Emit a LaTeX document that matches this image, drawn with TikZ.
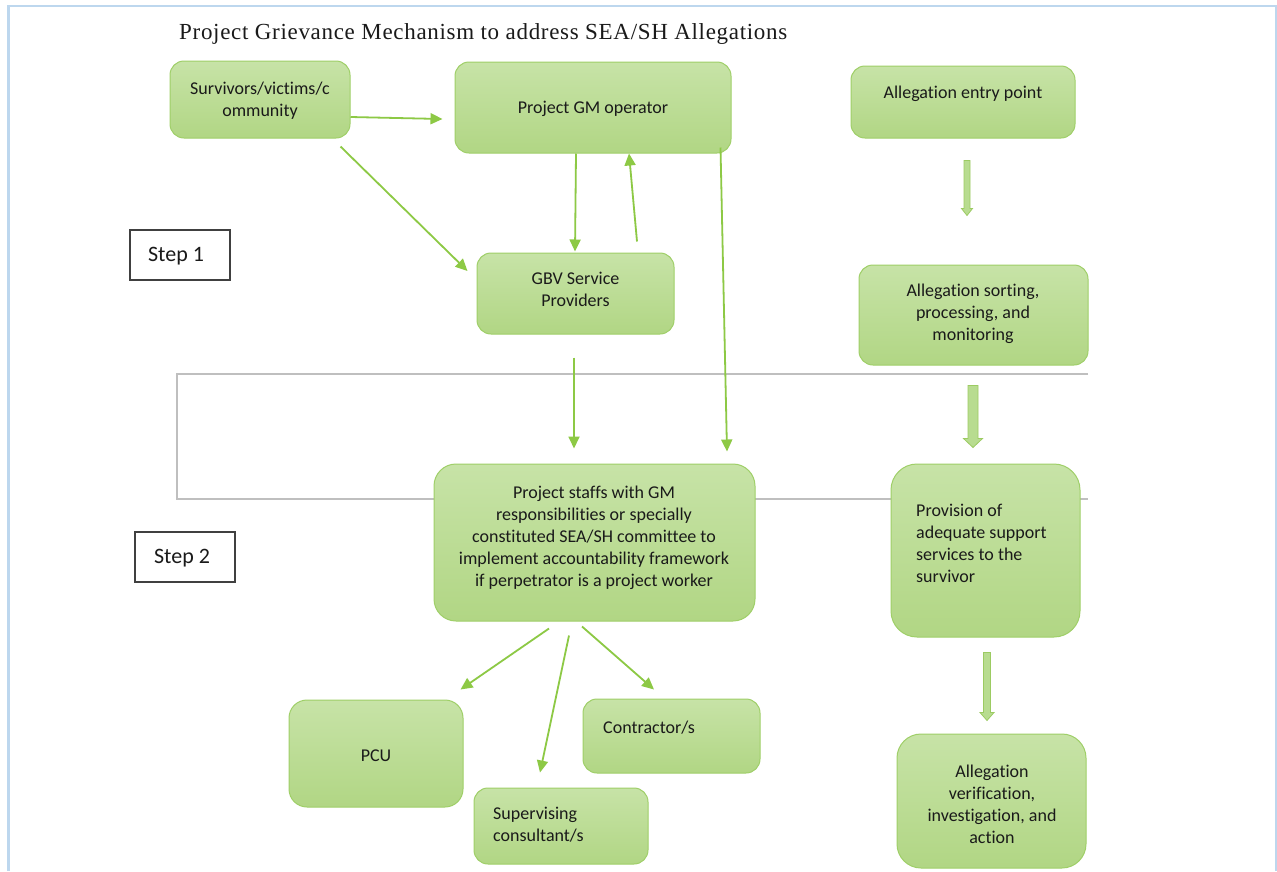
\documentclass[tikz,border=0pt]{standalone}
\usepackage{fontspec}
\setmainfont{Carlito}[Ligatures=NoCommon]
\newfontfamily\titlefont{Liberation Serif}[LetterSpace=3]
\usetikzlibrary{arrows.meta,calc}
\definecolor{boxtop}{HTML}{C7E3A7}
\definecolor{boxbot}{HTML}{B1D684}
\definecolor{boxline}{HTML}{9FCF68}
\definecolor{arrgreen}{HTML}{8DC945}
\definecolor{blkfill}{HTML}{B8DC90}
\definecolor{blkline}{HTML}{9CCB62}
\definecolor{frameblue}{HTML}{BDD7EE}
\definecolor{bandgray}{HTML}{BFBFBF}
\definecolor{txt}{HTML}{1A1A1A}
\newcommand\blockarrow[5]{%
  \draw[blockarr] (#1) ++(-#3,0) -- ++(0,#2-#5) -- ++(#3-#4,0) -- ++(#4,#5)
    -- ++(#4,-#5) -- ++(#3-#4,0) -- ++(0,-#2+#5) -- cycle;}
\begin{document}
\begin{tikzpicture}[x=1pt,y=-1pt,
  gbox/.style={draw=boxline, line width=1pt, top color=boxtop, bottom color=boxbot,
    rounded corners=14pt, inner sep=0pt},
  btext/.style={text=txt, font=\fontsize{18}{22}\selectfont, inner sep=0pt, yshift=-2pt},
  stepbox/.style={draw=black!75, line width=1.2pt, fill=white, inner sep=0pt,
    minimum width=100pt, minimum height=50pt},
  conn/.style={draw=arrgreen, line width=1.8pt, -{Triangle[length=12pt,width=11pt]}},
  blockarr/.style={draw=blkline, line width=0.8pt, fill=blkfill, line join=miter}]
\useasboundingbox (0,0) rectangle (1277,871);
\fill[white] (0,0) rectangle (1277,871);
% outer frame
\draw[frameblue, line width=2.6pt] (8.5,871) -- (8.5,6) -- (1276,6) -- (1276,871);
% step band
\draw[bandgray, line width=1.1pt] (1088,374) -- (177,374) -- (177,499) -- (1088,499);
% title
\node[anchor=base west, inner sep=0pt, font=\titlefont\fontsize{23}{27}\selectfont, text=txt] (title) at (179,39)
  {Project Grievance Mechanism to address SEA/SH Allegations};
% step boxes
\node[stepbox] (step1) at (180,255) {};
\node[btext, font=\fontsize{22}{26}\selectfont] (step1t) at (176,254) {Step 1};
\node[stepbox] (step2) at (185,557) {};
\node[btext, font=\fontsize{22}{26}\selectfont] (step2t) at (182,556) {Step 2};
% green boxes
\node[gbox, minimum width=180pt, minimum height=77pt] (surv) at (260,99.5) {};
\node[btext, align=center] (survt) at (260,99) {Survivors/victims/c\\ommunity};
\node[gbox, minimum width=276pt, minimum height=91pt] (gm) at (593,107.5) {};
\node[btext] (gmt) at (593,107) {Project GM operator};
\node[gbox, minimum width=224pt, minimum height=72pt] (entry) at (963,102) {};
\node[btext] (entryt) at (963,92) {Allegation entry point};
\node[gbox, minimum width=197pt, minimum height=81pt] (gbv) at (575.5,293.5) {};
\node[btext, align=center] (gbvt) at (575.5,287.5) {GBV Service\\Providers};
\node[gbox, minimum width=229pt, minimum height=100pt] (sort) at (973.5,315) {};
\node[btext, align=center] (sortt) at (973,312) {Allegation sorting,\\processing, and\\monitoring};
\node[gbox, minimum width=321pt, minimum height=157pt, rounded corners=22pt] (staff) at (594.5,542.5) {};
\node[btext, align=center] (stafft) at (594,536) {Project staffs with GM\\responsibilities or specially\\constituted SEA/SH committee to\\implement accountability framework\\if perpetrator is a project worker};
\node[gbox, minimum width=189pt, minimum height=173pt, rounded corners=26pt] (prov) at (985.5,550.5) {};
\node[btext, align=left, anchor=west] (provt) at (916,541) {Provision of\\adequate support\\services to the\\survivor};
\node[gbox, minimum width=174pt, minimum height=107pt, rounded corners=18pt] (pcu) at (376,753.5) {};
\node[btext] (pcut) at (376,754) {PCU};
\node[gbox, minimum width=174pt, minimum height=76pt] (sup) at (561,826) {};
\node[btext, align=left, anchor=west] (supt) at (493,823) {Supervising\\consultant/s};
\node[gbox, minimum width=177pt, minimum height=74pt] (con) at (671.5,736) {};
\node[btext, anchor=west] (cont) at (603,726) {Contractor/s};
\node[gbox, minimum width=189pt, minimum height=134pt, rounded corners=24pt] (ver) at (991.5,801) {};
\node[btext, align=center] (vert) at (992,802) {Allegation\\verification,\\investigation, and\\action};
% thin connectors
\draw[conn] ($(surv.east)+(0,17.5)$) -- ($(gm.west)+(-12,11.5)$);
\draw[conn] ($(surv.south east)+(-10,8)$) -- ($(gbv.west)+(-9,-22.5)$);
\draw[conn] ($(gm.south)+(-17,0)$) -- ($(gbv.north)+(-0.5,-1)$);
\draw[conn] ($(gbv.north)+(61.5,-11)$) -- ($(gm.south)+(36,0)$);
\draw[conn] ($(gm.south east)+(-11,-6)$) -- ($(staff.north)+(132.5,-12)$);
\draw[conn] ($(gbv.south)+(-1.5,23)$) -- ($(staff.north)+(-20.5,-15)$);
\draw[conn] ($(staff.south)+(-45.5,7)$) -- ($(pcu.north east)+(-3,-10)$);
\draw[conn] ($(staff.south)+(-25.5,14)$) -- ($(sup.north)+(-21,-15)$);
\draw[conn] ($(staff.south)+(-12.5,5)$) -- ($(con.north)+(-17.5,-9)$);
% block arrows
\coordinate (b1) at ($(entry.south)+(4,22)$);
\coordinate (b2) at ($(sort.south)+(-0.5,20)$);
\coordinate (b3) at ($(prov.south)+(1.5,15)$);
\blockarrow{b1}{55}{3}{5.5}{7}
\blockarrow{b2}{62}{5}{9.5}{9}
\blockarrow{b3}{68}{3.5}{7}{8}
\end{tikzpicture}
\end{document}
